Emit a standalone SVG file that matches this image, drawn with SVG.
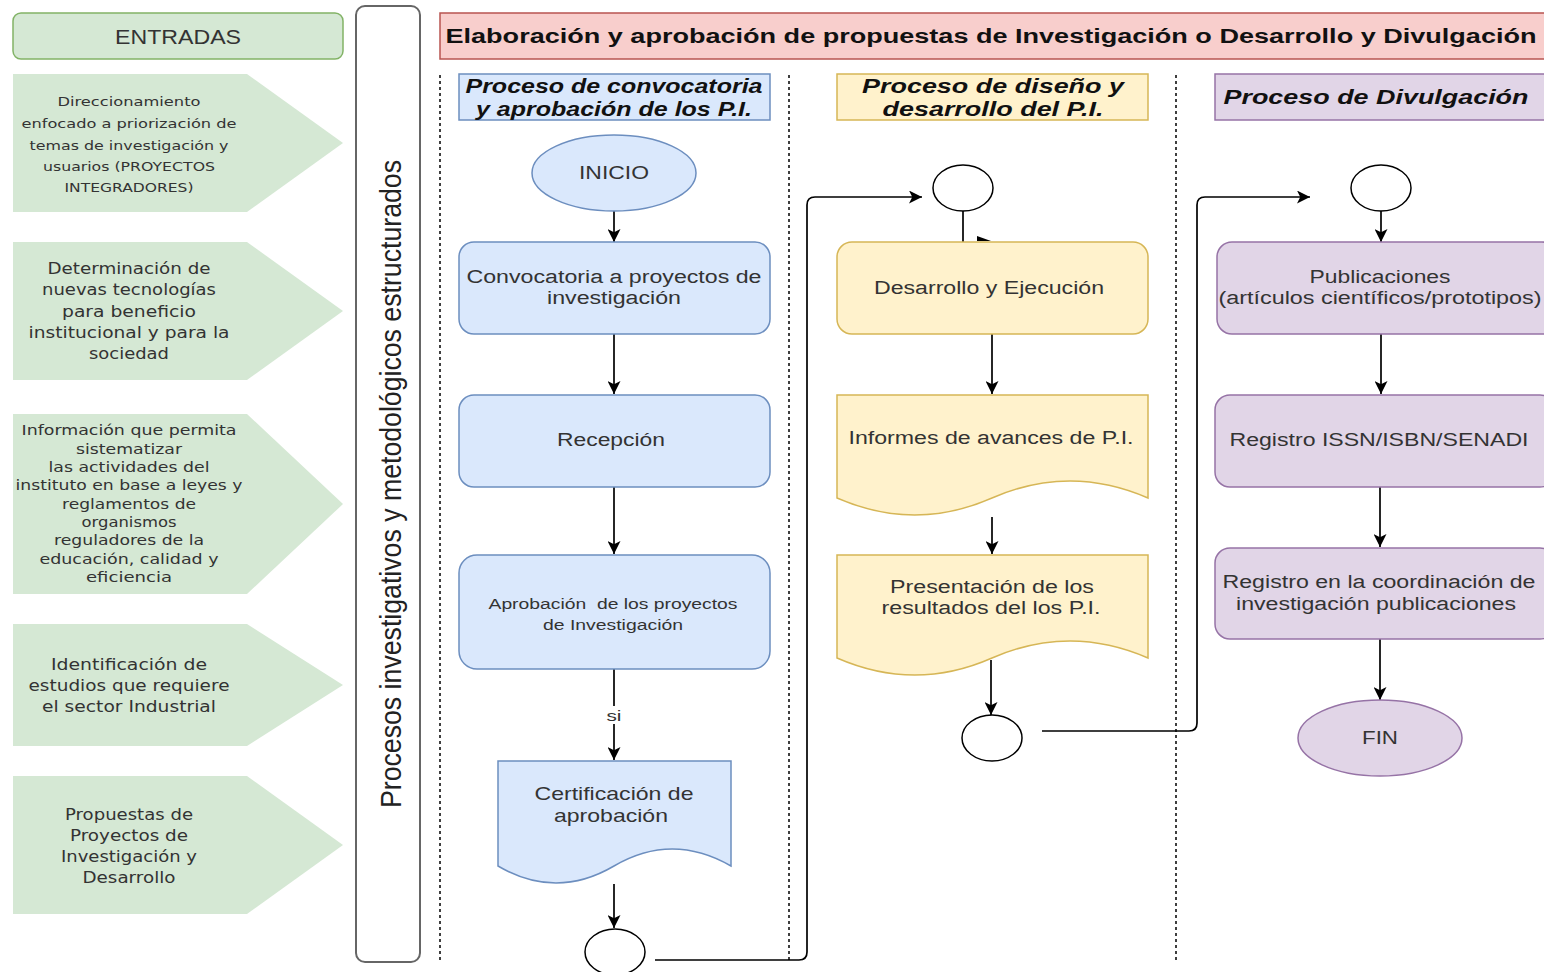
<svg xmlns="http://www.w3.org/2000/svg" width="1544" height="972" viewBox="0 0 1544 972">
<style>
text{dominant-baseline:central;text-anchor:middle}
.lt{font-family:"DejaVu Sans",sans-serif;fill:#333}
.nt{font-family:"Liberation Sans",Arial,sans-serif;fill:#333;font-size:18px}
.hd{font-family:"Liberation Sans",Arial,sans-serif;fill:#111;font-size:20px;font-weight:bold;font-style:italic}
.gr{fill:#d5e8d4;stroke:none}
.bl{fill:#dae8fc;stroke:#6c8ebf;stroke-width:1.5}
.ye{fill:#fff2cc;stroke:#d6b656;stroke-width:1.5}
.pu{fill:#e1d5e7;stroke:#9673a6;stroke-width:1.5}
.ci{fill:#fff;stroke:#000;stroke-width:1.5}
.dash{stroke:#000;stroke-width:1.5;stroke-dasharray:3 3;fill:none}
.cn{fill:none;stroke:#000;stroke-width:1.7}
</style>
<defs>
<marker id="ar" markerUnits="userSpaceOnUse" markerWidth="13" markerHeight="13" viewBox="0 0 10 10" refX="10" refY="5" orient="auto">
<path d="M0,0 L10,5 L0,10 L2.5,5 Z" fill="#000"/>
</marker>
</defs>
<rect width="1544" height="972" fill="#fff"/>

<!-- swimlane separators -->
<g id="lanes">
<line class="dash" x1="440" y1="75" x2="440" y2="962"/>
<line class="dash" x1="789" y1="75" x2="789" y2="962"/>
<line class="dash" x1="1176" y1="75" x2="1176" y2="962"/>
</g>

<g id="entradas">
<rect x="13" y="13" width="330" height="46" rx="8" fill="#d5e8d4" stroke="#82b366" stroke-width="1.5"/>
<text class="nt" x="178" y="36" style="font-size:21px" textLength="126" lengthAdjust="spacingAndGlyphs">ENTRADAS</text>
</g>

<g id="in1">
<polygon class="gr" points="13,74 247,74 343,143 247,212 13,212"/>
<g class="lt" font-size="13">
<text x="129" y="101" textLength="143" lengthAdjust="spacingAndGlyphs">Direccionamiento</text>
<text x="129" y="123" textLength="215" lengthAdjust="spacingAndGlyphs">enfocado a priorización de</text>
<text x="129" y="145" textLength="199" lengthAdjust="spacingAndGlyphs">temas de investigación y</text>
<text x="129" y="166" textLength="172" lengthAdjust="spacingAndGlyphs">usuarios (PROYECTOS</text>
<text x="129" y="187" textLength="129" lengthAdjust="spacingAndGlyphs">INTEGRADORES)</text>
</g>
</g>

<g id="in2">
<polygon class="gr" points="13,242 247,242 343,311 247,380 13,380"/>
<g class="lt" font-size="15">
<text x="129" y="269" textLength="163" lengthAdjust="spacingAndGlyphs">Determinación de</text>
<text x="129" y="290" textLength="174" lengthAdjust="spacingAndGlyphs">nuevas tecnologías</text>
<text x="129" y="312" textLength="134" lengthAdjust="spacingAndGlyphs">para beneficio</text>
<text x="129" y="333" textLength="201" lengthAdjust="spacingAndGlyphs">institucional y para la</text>
<text x="129" y="354" textLength="80" lengthAdjust="spacingAndGlyphs">sociedad</text>
</g>
</g>

<g id="in3">
<polygon class="gr" points="13,414 247,414 343,504 247,594 13,594"/>
<g class="lt" font-size="13.5">
<text x="129" y="430" textLength="215" lengthAdjust="spacingAndGlyphs">Información que permita</text>
<text x="129" y="449" textLength="106" lengthAdjust="spacingAndGlyphs">sistematizar</text>
<text x="129" y="467" textLength="161" lengthAdjust="spacingAndGlyphs">las actividades del</text>
<text x="129" y="485" textLength="227" lengthAdjust="spacingAndGlyphs">instituto en base a leyes y</text>
<text x="129" y="504" textLength="134" lengthAdjust="spacingAndGlyphs">reglamentos de</text>
<text x="129" y="522" textLength="95" lengthAdjust="spacingAndGlyphs">organismos</text>
<text x="129" y="540" textLength="150" lengthAdjust="spacingAndGlyphs">reguladores de la</text>
<text x="129" y="559" textLength="179" lengthAdjust="spacingAndGlyphs">educación, calidad y</text>
<text x="129" y="577" textLength="86" lengthAdjust="spacingAndGlyphs">eficiencia</text>
</g>
</g>

<g id="in4">
<polygon class="gr" points="13,624 247,624 343,685 247,746 13,746"/>
<g class="lt" font-size="15">
<text x="129" y="665" textLength="156" lengthAdjust="spacingAndGlyphs">Identificación de</text>
<text x="129" y="686" textLength="201" lengthAdjust="spacingAndGlyphs">estudios que requiere</text>
<text x="129" y="707" textLength="174" lengthAdjust="spacingAndGlyphs">el sector Industrial</text>
</g>
</g>

<g id="in5">
<polygon class="gr" points="13,776 247,776 343,845 247,914 13,914"/>
<g class="lt" font-size="15">
<text x="129" y="815" textLength="128" lengthAdjust="spacingAndGlyphs">Propuestas de</text>
<text x="129" y="836" textLength="118" lengthAdjust="spacingAndGlyphs">Proyectos de</text>
<text x="129" y="857" textLength="136" lengthAdjust="spacingAndGlyphs">Investigación y</text>
<text x="129" y="878" textLength="93" lengthAdjust="spacingAndGlyphs">Desarrollo</text>
</g>
</g>

<g id="procesos">
<rect x="356" y="6" width="64" height="956" rx="9" fill="#fff" stroke="#666" stroke-width="2"/>
<text class="nt" transform="translate(390 484) rotate(-90)" style="font-size:30px;fill:#222" textLength="648" lengthAdjust="spacingAndGlyphs">Procesos investigativos y metodológicos estructurados</text>
</g>

<g id="titulo">
<rect x="440" y="13" width="1110" height="46" fill="#f8cecc" stroke="#b85450" stroke-width="1.5"/>
<text x="991" y="36" font-family="Liberation Sans, Arial, sans-serif" font-weight="bold" font-size="20" fill="#111" textLength="1091" lengthAdjust="spacingAndGlyphs">Elaboración y aprobación de propuestas de Investigación o Desarrollo y Divulgación</text>
</g>

<g id="hdr-conv">
<rect class="bl" x="459" y="74" width="311" height="46"/>
<text class="hd" x="614" y="86" textLength="297" lengthAdjust="spacingAndGlyphs">Proceso de convocatoria</text>
<text class="hd" x="614" y="109" textLength="276" lengthAdjust="spacingAndGlyphs">y aprobación de los P.I.</text>
</g>
<g id="hdr-dis">
<rect class="ye" x="837" y="74" width="311" height="46"/>
<text class="hd" x="993" y="86" textLength="262" lengthAdjust="spacingAndGlyphs">Proceso de diseño y</text>
<text class="hd" x="993" y="109" textLength="221" lengthAdjust="spacingAndGlyphs">desarrollo del P.I.</text>
</g>
<g id="hdr-div">
<rect class="pu" x="1215" y="74" width="340" height="46"/>
<text class="hd" x="1376" y="97" textLength="305" lengthAdjust="spacingAndGlyphs">Proceso de Divulgación</text>
</g>

<!-- connectors -->
<g id="connectors">
<path class="cn" d="M614 211 V242" marker-end="url(#ar)"/>
<path class="cn" d="M614 334 V394" marker-end="url(#ar)"/>
<path class="cn" d="M614 487 V554" marker-end="url(#ar)"/>
<path class="cn" d="M614 669 V760" marker-end="url(#ar)"/>
<path class="cn" d="M614 884 V928" marker-end="url(#ar)"/>
<path class="cn" d="M655 960 H799 Q807 960 807 952 V205 Q807 197 815 197 H922" marker-end="url(#ar)"/>
<path class="cn" d="M963 211 V242"/>
<polygon points="977,236 991,241 977,241" fill="#000"/>
<path class="cn" d="M992 334 V394" marker-end="url(#ar)"/>
<path class="cn" d="M992 517 V554" marker-end="url(#ar)"/>
<path class="cn" d="M991 660 V715" marker-end="url(#ar)"/>
<path class="cn" d="M1042 731 H1189 Q1197 731 1197 723 V205 Q1197 197 1205 197 H1310" marker-end="url(#ar)"/>
<path class="cn" d="M1381 211 V242" marker-end="url(#ar)"/>
<path class="cn" d="M1381 334 V394" marker-end="url(#ar)"/>
<path class="cn" d="M1380 487 V547" marker-end="url(#ar)"/>
<path class="cn" d="M1380 639 V700" marker-end="url(#ar)"/>
<rect x="605" y="706" width="19" height="18" fill="#fff"/>
<text class="nt" x="614" y="715" style="font-size:15px" textLength="15" lengthAdjust="spacingAndGlyphs">si</text>
</g>

<g id="inicio">
<ellipse class="bl" cx="614" cy="173" rx="82" ry="38"/>
<text class="nt" x="614" y="173" textLength="70" lengthAdjust="spacingAndGlyphs">INICIO</text>
</g>
<g id="convocatoria">
<rect class="bl" x="459" y="242" width="311" height="92" rx="15"/>
<text class="nt" x="614" y="277" textLength="295" lengthAdjust="spacingAndGlyphs">Convocatoria a proyectos de</text>
<text class="nt" x="614" y="298" textLength="134" lengthAdjust="spacingAndGlyphs">investigación</text>
</g>
<g id="recepcion">
<rect class="bl" x="459" y="395" width="311" height="92" rx="15"/>
<text class="nt" x="611" y="440" textLength="108" lengthAdjust="spacingAndGlyphs">Recepción</text>
</g>
<g id="aprobacion">
<rect class="bl" x="459" y="555" width="311" height="114" rx="18"/>
<text class="nt" x="613" y="604" style="font-size:14px" textLength="249" lengthAdjust="spacingAndGlyphs">Aprobación&#160; de los proyectos</text>
<text class="nt" x="613" y="625" style="font-size:14px" textLength="140" lengthAdjust="spacingAndGlyphs">de Investigación</text>
</g>
<g id="certificacion">
<path class="bl" d="M498 761 H731 V866 Q672 832 614 866 Q556 900 498 866 Z"/>
<text class="nt" x="614" y="793" style="font-size:19px" textLength="159" lengthAdjust="spacingAndGlyphs">Certificación de</text>
<text class="nt" x="611" y="815" style="font-size:19px" textLength="114" lengthAdjust="spacingAndGlyphs">aprobación</text>
</g>
<g id="conector-a">
<ellipse class="ci" cx="615" cy="952" rx="30" ry="23"/>
</g>

<g id="conector-b">
<ellipse class="ci" cx="963" cy="188" rx="30" ry="23"/>
</g>
<g id="desarrollo">
<rect class="ye" x="837" y="242" width="311" height="92" rx="15"/>
<text class="nt" x="989" y="288" textLength="230" lengthAdjust="spacingAndGlyphs">Desarrollo y Ejecución</text>
</g>
<g id="informes">
<path class="ye" d="M837 395 H1148 V498 Q1070 464 992 498 Q915 532 837 498 Z"/>
<text class="nt" x="991" y="438" textLength="285" lengthAdjust="spacingAndGlyphs">Informes de avances de P.I.</text>
</g>
<g id="presentacion">
<path class="ye" d="M837 555 H1148 V658 Q1070 624 992 658 Q915 692 837 658 Z"/>
<text class="nt" x="992" y="587" textLength="204" lengthAdjust="spacingAndGlyphs">Presentación de los</text>
<text class="nt" x="991" y="608" textLength="219" lengthAdjust="spacingAndGlyphs">resultados del los P.I.</text>
</g>
<g id="conector-c">
<ellipse class="ci" cx="992" cy="738" rx="30" ry="23"/>
</g>

<g id="conector-d">
<ellipse class="ci" cx="1381" cy="188" rx="30" ry="23"/>
</g>
<g id="publicaciones">
<rect class="pu" x="1217" y="242" width="340" height="92" rx="15"/>
<text class="nt" x="1380" y="277" textLength="141" lengthAdjust="spacingAndGlyphs">Publicaciones</text>
<text class="nt" x="1380" y="298" textLength="323" lengthAdjust="spacingAndGlyphs">(artículos científicos/prototipos)</text>
</g>
<g id="registro-issn">
<rect class="pu" x="1215" y="395" width="340" height="92" rx="15"/>
<text class="nt" x="1379" y="440" textLength="299" lengthAdjust="spacingAndGlyphs">Registro ISSN/ISBN/SENADI</text>
</g>
<g id="registro-coord">
<rect class="pu" x="1215" y="548" width="340" height="91" rx="15"/>
<text class="nt" x="1379" y="582" textLength="313" lengthAdjust="spacingAndGlyphs">Registro en la coordinación de</text>
<text class="nt" x="1376" y="604" textLength="280" lengthAdjust="spacingAndGlyphs">investigación publicaciones</text>
</g>
<g id="fin">
<ellipse class="pu" cx="1380" cy="738" rx="82" ry="38"/>
<text class="nt" x="1380" y="738" textLength="36" lengthAdjust="spacingAndGlyphs">FIN</text>
</g>
</svg>
